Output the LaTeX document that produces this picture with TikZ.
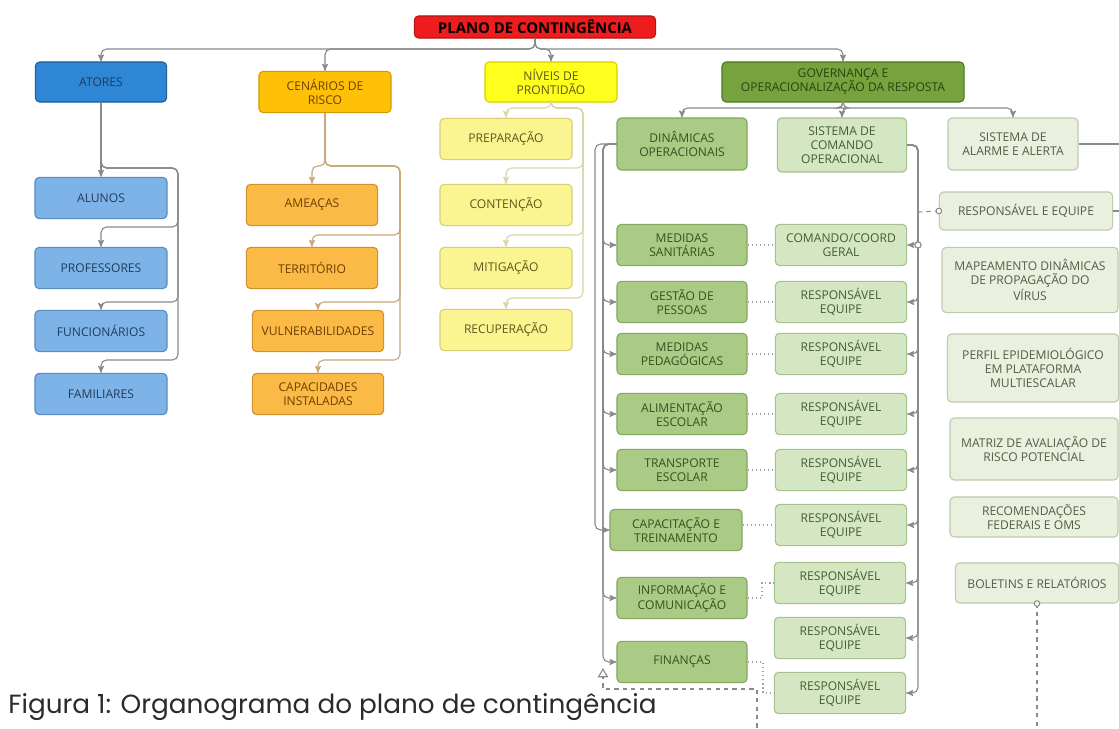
\documentclass[tikz,border=0pt]{standalone}
\usepackage{fontspec}
\setmainfont{Open Sans}
\newfontfamily\captionfont{Poppins}
\usepackage{xcolor}
\usepackage{tikz}
\usetikzlibrary{arrows}

\definecolor{rootred}{HTML}{EE1C1C}
\definecolor{rootedge}{HTML}{B81414}
\definecolor{actorhead}{HTML}{2E86D4}
\definecolor{actoredge}{HTML}{1D5E9C}
\definecolor{actorfill}{HTML}{7DB3E6}
\definecolor{actorline}{HTML}{5A8CC2}
\definecolor{actortext}{HTML}{1F3D5E}
\definecolor{riskhead}{HTML}{FFC107}
\definecolor{riskedge}{HTML}{D49A00}
\definecolor{riskfill}{HTML}{FBB945}
\definecolor{riskline}{HTML}{D0922E}
\definecolor{risktext}{HTML}{6E4000}
\definecolor{levelhead}{HTML}{FFFF1E}
\definecolor{leveledge}{HTML}{D4D000}
\definecolor{levelfill}{HTML}{FAF590}
\definecolor{levelline}{HTML}{D6CF78}
\definecolor{leveltext}{HTML}{5E5818}
\definecolor{govhead}{HTML}{76A33D}
\definecolor{govedge}{HTML}{4D7A22}
\definecolor{govtext}{HTML}{274410}
\definecolor{dynfill}{HTML}{A9CB85}
\definecolor{dynedge}{HTML}{84A862}
\definecolor{dyntext}{HTML}{34521F}
\definecolor{cmdfill}{HTML}{D5E6C3}
\definecolor{cmdedge}{HTML}{A9C08F}
\definecolor{cmdtext}{HTML}{425F30}
\definecolor{alarmfill}{HTML}{E9F0DE}
\definecolor{alarmedge}{HTML}{BFCAB0}
\definecolor{alarmtext}{HTML}{505E44}
\definecolor{linkgray}{HTML}{8A8A8A}
\definecolor{risklink}{HTML}{C9A77A}
\definecolor{levellink}{HTML}{D9D6A6}
\definecolor{captiontext}{HTML}{2B2B2B}

\begin{document}
\begin{tikzpicture}[x=0.025cm,y=-0.025cm,>=stealth',
  box/.style={rectangle,rounded corners=3pt,draw,line width=0.8pt,align=center,
    inner sep=1pt,font=\fontsize{8.6}{10}\selectfont},
  root node/.style={box,fill=rootred,draw=rootedge,text=black,
    font=\fontsize{10.6}{12}\selectfont\bfseries,minimum width=6.03cm,minimum height=0.55cm},
  actor head/.style={box,fill=actorhead,draw=actoredge,text=actortext,minimum width=3.28cm,minimum height=1cm},
  actor node/.style={box,fill=actorfill,draw=actorline,text=actortext,minimum width=3.3cm,minimum height=1.03cm},
  risk head/.style={box,fill=riskhead,draw=riskedge,text=risktext,minimum width=3.3cm,minimum height=1.03cm},
  risk node/.style={box,fill=riskfill,draw=riskline,text=risktext,minimum width=3.28cm,minimum height=1.03cm},
  level head/.style={box,fill=levelhead,draw=leveledge,text=leveltext,minimum width=3.3cm,minimum height=1cm},
  level node/.style={box,fill=levelfill,draw=levelline,text=leveltext,minimum width=3.3cm,minimum height=1.03cm},
  gov head/.style={box,fill=govhead,draw=govedge,text=govtext,minimum width=6.05cm,minimum height=1cm},
  dyn node/.style={box,fill=dynfill,draw=dynedge,text=dyntext,minimum width=3.25cm,minimum height=1.03cm},
  cmd node/.style={box,fill=cmdfill,draw=cmdedge,text=cmdtext,minimum width=3.28cm,minimum height=1.03cm},
  alarm node/.style={box,fill=alarmfill,draw=alarmedge,text=alarmtext,minimum height=1cm},
  link/.style={->,draw=linkgray,line width=0.8pt,rounded corners=4pt},
  risk link/.style={link,draw=risklink},
  level link/.style={link,draw=levellink},
  dot link/.style={draw=linkgray!80,line width=0.9pt,dotted},
  dash link/.style={draw=linkgray,line width=0.8pt,dashed}]

  \useasboundingbox (0,0) rectangle (1119,729);
  \fill[white] (0,0) rectangle (1119,729);

  % top level
  \node[root node] (plano) at (535,27) {PLANO DE CONTINGÊNCIA};
  \node[actor head] (atores) at (101,82) {ATORES};
  \node[risk head] (cenarios) at (325,92) {CENÁRIOS DE\\RISCO};
  \node[level head] (niveis) at (551,82) {NÍVEIS DE\\PRONTIDÃO};
  \node[gov head] (governanca) at (843,82) {GOVERNANÇA E\\OPERACIONALIZAÇÃO DA RESPOSTA};

  \foreach \dest in {atores,cenarios,niveis,governanca}
    \draw[link] (plano.south) -- (535,49) -| (\dest.north);

  % atores
  \node[actor node] (alunos) at (101,198) {ALUNOS};
  \node[actor node] (professores) at (101,268) {PROFESSORES};
  \node[actor node] (funcionarios) at (101,331) {FUNCIONÁRIOS};
  \node[actor node] (familiares) at (101,394) {FAMILIARES};

  \draw[link] (atores.south) -- (alunos.north);
  \foreach \dest/\y in {professores/227,funcionarios/302,familiares/360}
    \draw[link] (atores.south) -- (101,168) -- (178,168) -- (178,\y) -| (\dest.north);

  % cenarios de risco
  \node[risk node] (ameacas) at (312,205) {AMEAÇAS};
  \node[risk node] (territorio) at (312,268) {TERRITÓRIO};
  \node[risk node] (vulnerabilidades) at (318,331) {VULNERABILIDADES};
  \node[risk node] (capacidades) at (318,394) {CAPACIDADES\\INSTALADAS};

  \draw[risk link] (cenarios.south) -- (325,166) -| (ameacas.north);
  \foreach \dest/\y in {territorio/235,vulnerabilidades/302,capacidades/360}
    \draw[risk link] (cenarios.south) -- (325,166) -- (400,166) -- (400,\y) -| (\dest.north);

  % niveis de prontidao
  \node[level node] (preparacao) at (506,139) {PREPARAÇÃO};
  \node[level node] (contencao) at (506,205) {CONTENÇÃO};
  \node[level node] (mitigacao) at (506,268) {MITIGAÇÃO};
  \node[level node] (recuperacao) at (506,330) {RECUPERAÇÃO};

  \draw[level link] (niveis.south) -- (551,108) -| (preparacao.north);
  \foreach \dest/\y in {contencao/168,mitigacao/235,recuperacao/298}
    \draw[level link] (niveis.south) -- (551,108) -- (583,108) -- (583,\y) -| (\dest.north);

  % governanca
  \node[dyn node,minimum height=1.3cm] (dinamicas) at (682,144) {DINÂMICAS\\OPERACIONAIS};
  \node[cmd node,minimum width=3.23cm,minimum height=1.35cm] (comando) at (842,145) {SISTEMA DE\\COMANDO\\OPERACIONAL};
  \node[alarm node,minimum width=3.25cm,minimum height=1.3cm] (alarme) at (1013,144) {SISTEMA DE\\ALARME E ALERTA};

  \foreach \dest in {dinamicas,comando,alarme}
    \draw[link] (governanca.south) -- (843,108) -| (\dest.north);

  % dinamicas operacionais
  \node[dyn node] (sanitarias) at (682,245) {MEDIDAS\\SANITÁRIAS};
  \node[dyn node] (pessoas) at (682,302) {GESTÃO DE\\PESSOAS};
  \node[dyn node] (pedagogicas) at (682,354) {MEDIDAS\\PEDAGÓGICAS};
  \node[dyn node] (alimentacao) at (682,414) {ALIMENTAÇÃO\\ESCOLAR};
  \node[dyn node] (transporte) at (682,470) {TRANSPORTE\\ESCOLAR};
  \node[dyn node,minimum width=3.3cm] (capacitacao) at (676,530) {CAPACITAÇÃO E\\TREINAMENTO};
  \node[dyn node] (informacao) at (682,598) {INFORMAÇÃO E\\COMUNICAÇÃO};
  \node[dyn node] (financas) at (682,662) {FINANÇAS};

  \foreach \dest in {sanitarias,pessoas,pedagogicas,alimentacao,transporte,informacao,financas}
    \draw[link] (dinamicas.west) -- (603,144) |- (\dest.west);
  \draw[link] (dinamicas.west) -- (595,144) |- (capacitacao.west);

  % sistema de comando operacional
  \node[cmd node] (geral) at (841,245) {COMANDO/COORD\\GERAL};
  \node[cmd node] (resp1) at (841,302) {RESPONSÁVEL\\EQUIPE};
  \node[cmd node] (resp2) at (841,354) {RESPONSÁVEL\\EQUIPE};
  \node[cmd node] (resp3) at (841,414) {RESPONSÁVEL\\EQUIPE};
  \node[cmd node] (resp4) at (841,470) {RESPONSÁVEL\\EQUIPE};
  \node[cmd node] (resp5) at (841,525) {RESPONSÁVEL\\EQUIPE};
  \node[cmd node] (resp6) at (840,583) {RESPONSÁVEL\\EQUIPE};
  \node[cmd node] (resp7) at (840,638) {RESPONSÁVEL\\EQUIPE};
  \node[cmd node] (resp8) at (840,693) {RESPONSÁVEL\\EQUIPE};

  \foreach \dest in {geral,resp1,resp2,resp3,resp4,resp5,resp6,resp7,resp8}
    \draw[link] (comando.east) -- (918,145) |- (\dest.east);
  \draw[draw=linkgray,fill=white,line width=0.8pt] (918,245) circle (2.2pt);

  % pares dinamicas / responsaveis
  \draw[dot link] (sanitarias) -- (geral);
  \draw[dot link] (pessoas) -- (resp1);
  \draw[dot link] (pedagogicas) -- (resp2);
  \draw[dot link] (alimentacao) -- (resp3);
  \draw[dot link] (transporte) -- (resp4);
  \draw[dot link] (capacitacao.east |- resp5) -- (resp5.west);
  \draw[dot link] (informacao.east) -- (762,598) |- (resp6.west);
  \draw[dot link] (financas.east) -- (763,662) |- (resp8.west);

  % sistema de alarme e alerta
  \node[alarm node,minimum width=4.33cm,minimum height=0.95cm] (responsavel) at (1026,211) {RESPONSÁVEL E EQUIPE};
  \node[alarm node,minimum width=4.4cm,minimum height=1.63cm] (mapeamento) at (1030,280) {MAPEAMENTO DINÂMICAS\\DE PROPAGAÇÃO DO\\VÍRUS};
  \node[alarm node,minimum width=4.28cm,minimum height=1.7cm] (perfil) at (1033,368) {PERFIL EPIDEMIOLÓGICO\\EM PLATAFORMA\\MULTIESCALAR};
  \node[alarm node,minimum width=4.2cm,minimum height=1.55cm] (matriz) at (1034,449) {MATRIZ DE AVALIAÇÃO DE\\RISCO POTENCIAL};
  \node[alarm node,minimum width=4.2cm] (recomendacoes) at (1034,517) {RECOMENDAÇÕES\\FEDERAIS E OMS};
  \node[alarm node,minimum width=4.08cm] (boletins) at (1037,583) {BOLETINS E RELATÓRIOS};

  \coordinate (alarmejoin) at (918,212);
  \coordinate (alarmeout) at (1135,144);
  \coordinate (respout) at (1135,211);
  \draw[dash link] (alarmejoin) -- (responsavel.west);
  \draw[draw=linkgray,fill=white,line width=0.7pt] (responsavel.west) circle (2pt);
  \draw[link,-] (alarme.east) -- (alarmeout);
  \draw[link,-] (responsavel.east) -- (respout);

  % boletins de volta para a dinamica (passa abaixo da margem)
  \draw[dash link,-open triangle 60] (boletins.south) -- (1037,745) -- (757,745) -- (757,689) -- (603,689) -- (603,668);
  \draw[draw=linkgray,fill=white,line width=0.7pt] (boletins.south) circle (2pt);

  \node[anchor=base west,inner sep=0pt,text=captiontext,font=\captionfont\fontsize{18.7}{21}\selectfont] (legenda) at (8,713) {Figura 1: Organograma do plano de contingência};
\end{tikzpicture}
\end{document}
